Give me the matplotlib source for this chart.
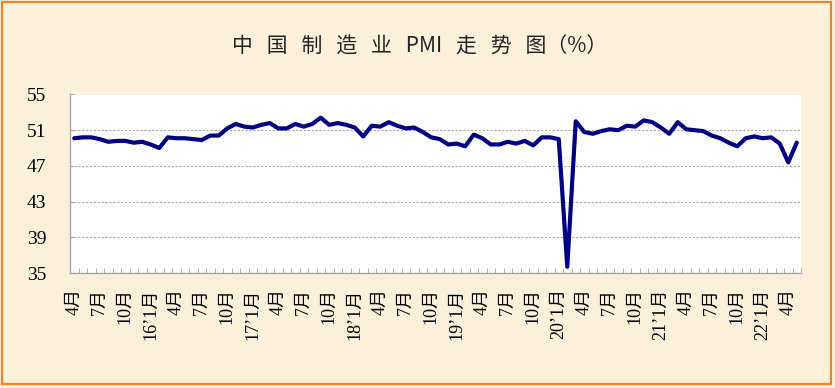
import matplotlib
matplotlib.use("Agg")
import matplotlib.pyplot as plt
from matplotlib.patches import Rectangle
from matplotlib.ticker import FixedLocator

# monthly manufacturing PMI, Apr 2015 .. May 2022
pmi_2015 = [50.1, 50.2, 50.2, 50.0, 49.7, 49.8, 49.8, 49.6, 49.7]          # Apr-Dec
pmi_2016 = [49.4, 49.0, 50.2, 50.1, 50.1, 50.0, 49.9, 50.4, 50.4, 51.2, 51.7, 51.4]
pmi_2017 = [51.3, 51.6, 51.8, 51.2, 51.2, 51.7, 51.4, 51.7, 52.4, 51.6, 51.8, 51.6]
pmi_2018 = [51.3, 50.3, 51.5, 51.4, 51.9, 51.5, 51.2, 51.3, 50.8, 50.2, 50.0, 49.4]
pmi_2019 = [49.5, 49.2, 50.5, 50.1, 49.4, 49.4, 49.7, 49.5, 49.8, 49.3, 50.2, 50.2]
pmi_2020 = [50.0, 35.7, 52.0, 50.8, 50.6, 50.9, 51.1, 51.0, 51.5, 51.4, 52.1, 51.9]
pmi_2021 = [51.3, 50.6, 51.9, 51.1, 51.0, 50.9, 50.4, 50.1, 49.6, 49.2, 50.1, 50.3]
pmi_2022 = [50.1, 50.2, 49.5, 47.4, 49.6]                                    # Jan-May

pmi = pmi_2015 + pmi_2016 + pmi_2017 + pmi_2018 + pmi_2019 + pmi_2020 + pmi_2021 + pmi_2022

# month / year of every point
months = []
years = []
y, m = 2015, 4
for _ in pmi:
    months.append(m)
    years.append(y)
    m += 1
    if m > 12:
        m = 1
        y += 1

# labels every 3 months, year prefix on January
label_pos = []
label_txt = []
for i, (yy, mm) in enumerate(zip(years, months)):
    if mm in (1, 4, 7, 10):
        label_pos.append(i)
        if mm == 1:
            label_txt.append(f"{yy % 100}\u2019{mm}月")
        else:
            label_txt.append(f"{mm}月")

y_ticks = [35, 39, 43, 47, 51, 55]

bg = "#FBF1DA"
grey = "#A6A6A6"
tick_font = ["Liberation Serif", "Noto Sans CJK SC"]

fig = plt.figure(figsize=(8.35, 3.88), dpi=100, facecolor=bg)
ax = fig.add_axes([70 / 835, 115 / 388, 731 / 835, 178.5 / 388])
ax.set_facecolor("white")

x = list(range(len(pmi)))
ax.plot(x, pmi, color="#000080", lw=3, solid_joinstyle="round", solid_capstyle="round", zorder=3)

ax.set_xlim(-0.5, len(pmi) - 0.5)
ax.set_ylim(35, 55)

ax.set_yticks(y_ticks)
ax.set_yticklabels([str(v) for v in y_ticks], family=tick_font, fontsize=14)
ax.tick_params(axis="y", direction="in", length=3, color=grey, pad=17)
for v in y_ticks[1:-1]:
    ax.axhline(v, color=grey, lw=0.8, ls=(0, (2, 1.5)), zorder=1)

ax.xaxis.set_major_locator(FixedLocator(label_pos))
ax.set_xticklabels(label_txt, rotation=90, family=tick_font, fontsize=13, va="top", ha="center")
ax.tick_params(axis="x", which="major", length=0, pad=11)
ax.xaxis.set_minor_locator(FixedLocator([i - 0.5 for i in range(len(pmi) + 1)]))
ax.tick_params(axis="x", which="minor", direction="in", length=3.5, color=grey)

for s in ("top", "right"):
    ax.spines[s].set_visible(False)
for s in ("left", "bottom"):
    ax.spines[s].set_color(grey)
    ax.spines[s].set_linewidth(1.0)

fig.text(420 / 835, 1 - 47 / 388, "中   国   制   造   业   PMI   走   势   图（%）",
         family=["Noto Sans CJK SC", "DejaVu Sans"], fontsize=15,
         ha="center", va="center", color="#222222")

fig.patches.append(Rectangle((2 / 835, 4 / 388), 829 / 835, 382 / 388,
                             transform=fig.transFigure, fill=False,
                             edgecolor="#F58220", lw=1.6))

fig.savefig("out.png", dpi=100, facecolor=bg)
